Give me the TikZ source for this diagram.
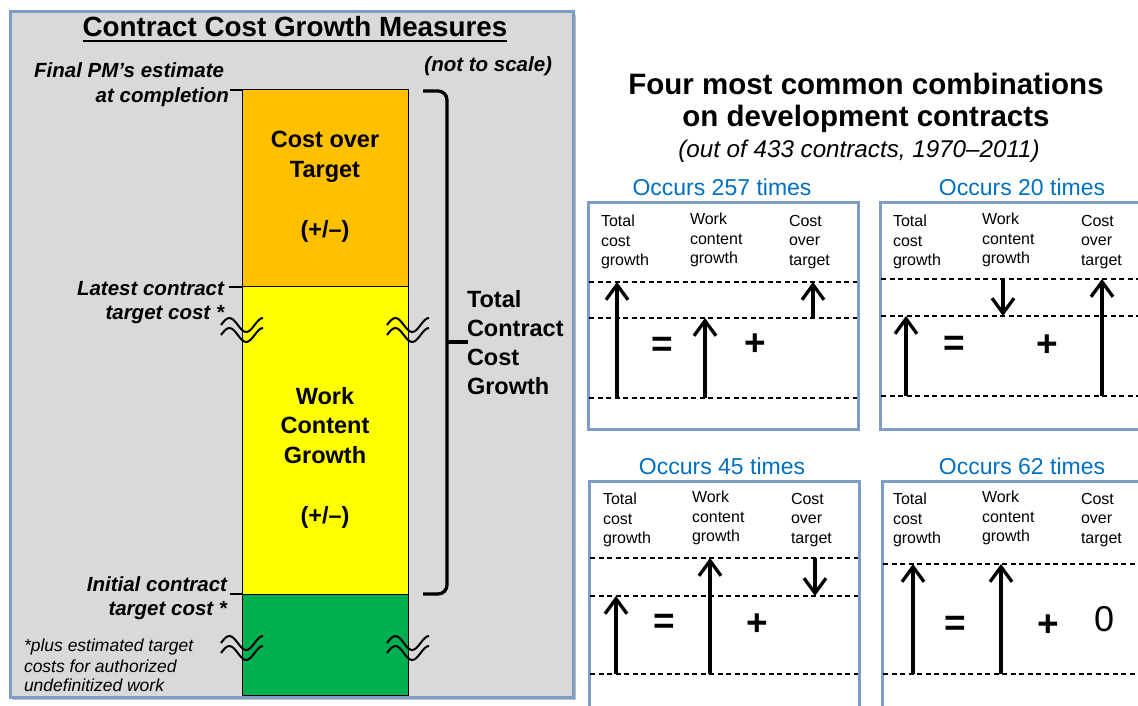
\documentclass[tikz,border=0pt]{standalone}
\usepackage{fontspec}
\setmainfont{Liberation Sans}
\usetikzlibrary{arrows.meta}

\begin{document}
\begin{tikzpicture}[x=1pt,y=1pt,
  txt/.style={text=drawColor,inner sep=0pt,outer sep=0pt},
  markLbl/.style={txt,anchor=base east,font=\fontsize{20.5}{24}\selectfont\bfseries\itshape},
  barLbl/.style={txt,anchor=base,font=\fontsize{23.5}{28}\selectfont\bfseries},
  colLbl/.style={txt,anchor=north west,align=left,font=\fontsize{16}{19.5}\selectfont},
  occLbl/.style={txt,anchor=base,text=occColor,font=\fontsize{23}{27}\selectfont},
  opLbl/.style={txt,anchor=center,font=\fontsize{37}{40}\selectfont\bfseries},
  levelLine/.style={draw=drawColor,line width=1.2pt,dash pattern=on 5pt off 3.5pt},
  growArrow/.style={draw=drawColor,line width=3.3pt,-{Straight Barb[length=15pt,width=22pt]}},
  caseBox/.style={draw=boxColor,line width=3pt,fill=white},
  breakWave/.style={draw=drawColor,line width=2pt},
  tickLine/.style={draw=drawColor,line width=1.5pt}]
\definecolor{fillColor}{RGB}{255,255,255}
\definecolor{drawColor}{RGB}{0,0,0}
\definecolor{boxColor}{RGB}{125,157,198}
\definecolor{occColor}{RGB}{0,112,192}
\path[use as bounding box,fill=fillColor] (0,0) rectangle (1138,705);
\begin{scope}
\path[clip] (0,0) rectangle (1138,705);
% left panel
\definecolor{fillColor}{RGB}{217,217,217}
\path[fill=black,fill opacity=0.25] (13,5) rectangle (576,690);
\path[draw=boxColor,line width=3pt,fill=fillColor] (10,8) rectangle (573,693);

\node[txt,anchor=base,font=\fontsize{27.8}{32}\selectfont\bfseries] (ttlMeasures) at (295,668) {Contract Cost Growth Measures};
\path[draw=drawColor,line width=1.8pt] ([yshift=-4pt]ttlMeasures.base west) -- ([yshift=-4pt]ttlMeasures.base east);

\node[markLbl] (lblScale) at (552,633) {(not to scale)};

% the bar
\definecolor{orangeFill}{RGB}{255,192,0}
\definecolor{yellowFill}{RGB}{255,255,0}
\definecolor{greenFill}{RGB}{0,176,80}
\path[draw=drawColor,fill=orangeFill,line width=1pt] (242,418) rectangle (408,615);
\path[draw=drawColor,fill=yellowFill,line width=1pt] (242,111) rectangle (408,418);
\path[draw=drawColor,fill=greenFill,line width=1pt] (242,10) rectangle (408,111);

\node[barLbl] (cotA) at (325,557) {Cost over};
\node[barLbl] (cotB) at (325,527) {Target};
\node[barLbl] (cotC) at (325,467) {(+/–)};
\node[barLbl] (wcgA) at (325,300) {Work};
\node[barLbl] (wcgB) at (325,271) {Content};
\node[barLbl] (wcgC) at (325,242) {Growth};
\node[barLbl] (wcgD) at (325,182) {(+/–)};

% levels
\coordinate (estTop) at (242,615);
\coordinate (latestTop) at (242,418);
\coordinate (initialTop) at (242,111);
\node[markLbl] (lblFinal) at (224,627) {Final PM’s estimate};
\node[markLbl] (lblAtCompl) at (229,602) {at completion};
\node[markLbl] (lblLatest) at (224,409) {Latest contract};
\node[markLbl] (lblLatestTgt) at (224,385) {target cost *};
\node[markLbl] (lblInitial) at (227,114) {Initial contract};
\node[markLbl] (lblInitialTgt) at (227,90) {target cost *};
\path[tickLine] ([xshift=1pt]lblAtCompl.east |- estTop) -- (estTop);
\path[tickLine] ([xshift=5pt]lblLatest.east |- latestTop) -- (latestTop);
\path[tickLine] ([xshift=3pt]lblInitial.east |- initialTop) -- (initialTop);

\foreach \wx/\wy in {221/380,221/370,387/380,387/370,221/62,221/52,387/62,387/52}
  \path[breakWave] (\wx,\wy) sin ++(8.4,7) cos ++(8.4,-7) sin ++(8.4,-7) cos ++(8.4,7) sin ++(8.4,7);

\node[txt,anchor=base west,font=\fontsize{17.5}{20}\selectfont\itshape] (noteA) at (24,54) {*plus estimated target};
\node[txt,anchor=base west,font=\fontsize{17.5}{20}\selectfont\itshape] (noteB) at (24,33) {costs for authorized};
\node[txt,anchor=base west,font=\fontsize{17.5}{20}\selectfont\itshape] (noteC) at (24,14) {undefinitized work};

% brace
\path[draw=drawColor,line width=3.3pt,rounded corners=9pt] (423,614) -- (447,614) -- (447,111) -- (423,111);
\path[draw=drawColor,line width=3.3pt] (447,363) -- (468,363);
\node[barLbl,anchor=base west] (tccA) at (467,397) {Total};
\node[barLbl,anchor=base west] (tccB) at (467,368) {Contract};
\node[barLbl,anchor=base west] (tccC) at (467,339) {Cost};
\node[barLbl,anchor=base west] (tccD) at (467,310) {Growth};

% right side
\node[txt,anchor=base,font=\fontsize{29.5}{32}\selectfont\bfseries] (ttlFour) at (866,610) {Four most common combinations};
\node[txt,anchor=base,font=\fontsize{29.5}{32}\selectfont\bfseries] (ttlDev) at (866,578) {on development contracts};
\node[txt,anchor=base,font=\fontsize{24.2}{27}\selectfont\itshape] (ttlOutOf) at (859,547) {(out of 433 contracts, 1970–2011)};

\path[caseBox] (588,275) rectangle (858,502);
\path[caseBox] (880,275) rectangle (1160,502);
\path[caseBox] (589,-20) rectangle (859,224);
\path[caseBox] (882,-20) rectangle (1160,224);

\node[occLbl] (occA) at (722,509) {Occurs 257 times};
\node[occLbl] (occB) at (1022,509) {Occurs 20 times};
\node[occLbl] (occC) at (722,230) {Occurs 45 times};
\node[occLbl] (occD) at (1022,230) {Occurs 62 times};

\foreach \bx/\by/\bn in {601/490/a,893/490/b,603/212/c,893/212/d} {
  \node[colLbl] (tot\bn) at (\bx,\by) {Total\\cost\\growth};
  \node[colLbl] (wcg\bn) at (\bx+89,\by+2) {Work\\content\\growth};
  \node[colLbl] (cot\bn) at (\bx+188,\by) {Cost\\over\\target};
}

% levels in each case
\foreach \ly in {423,387,307} \path[levelLine] (589,\ly) -- (857,\ly);
\foreach \ly in {426,389,309} \path[levelLine] (881,\ly) -- (1140,\ly);
\foreach \ly in {147,109,31} \path[levelLine] (590,\ly) -- (858,\ly);
\foreach \ly in {141,31} \path[levelLine] (883,\ly) -- (1140,\ly);

% 257 times
\path[growArrow] (617,307) -- (617,423);
\path[growArrow] (705,307) -- (705,387);
\path[growArrow] (813,387) -- (813,423);
\node[opLbl] (eqA) at (662,358) {=};
\node[opLbl] (plA) at (755,360) {+};
% 20 times
\path[growArrow] (906,309) -- (906,389);
\path[growArrow] (1003,426) -- (1003,389);
\path[growArrow] (1102,309) -- (1102,426);
\node[opLbl] (eqB) at (954,359) {=};
\node[opLbl] (plB) at (1047,359) {+};
% 45 times
\path[growArrow] (616,31) -- (616,109);
\path[growArrow] (710,31) -- (710,147);
\path[growArrow] (815,147) -- (815,109);
\node[opLbl] (eqC) at (664,81) {=};
\node[opLbl] (plC) at (757,80) {+};
% 62 times
\path[growArrow] (913,31) -- (913,141);
\path[growArrow] (1001,31) -- (1001,141);
\node[opLbl] (eqD) at (955,79) {=};
\node[opLbl] (plD) at (1048,79) {+};
\node[txt,font=\fontsize{36}{40}\selectfont] (zeroD) at (1104,86) {0};
\end{scope}
\end{tikzpicture}
\end{document}
